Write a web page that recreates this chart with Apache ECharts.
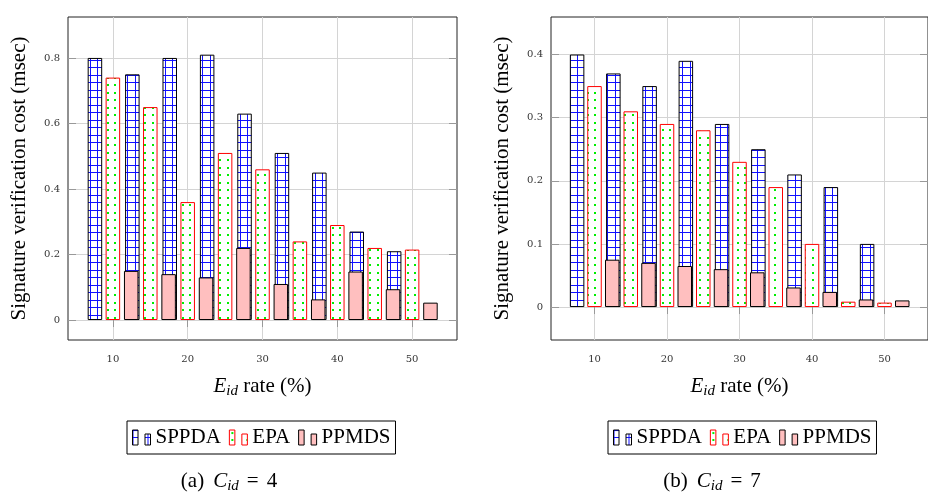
<!DOCTYPE html>
<html>
<head>
<meta charset="utf-8">
<script src="https://cdn.jsdelivr.net/npm/echarts@6/dist/echarts.min.js"></script>
<style>
  html, body { margin: 0; padding: 0; background: #fff; }
  #chart { width: 928px; height: 494px; }
</style>
</head>
<body>
<div id="chart"></div>
<script>
// bar positions on the E_id rate axis (%)
const sppdaX = [7.6, 12.6, 17.6, 22.6, 27.6, 32.6, 37.6, 42.6, 47.6];
const epaX = [10, 15, 20, 25, 30, 35, 40, 45, 50];
const ppmdsX = [12.45, 17.45, 22.45, 27.45, 32.45, 37.45, 42.45, 47.45, 52.45];

// (a) C_id = 4
const sppdaA = [0.80, 0.75, 0.80, 0.81, 0.63, 0.51, 0.45, 0.27, 0.21];
const epaA = [0.74, 0.65, 0.36, 0.51, 0.46, 0.24, 0.29, 0.22, 0.215];
const ppmdsA = [0.15, 0.14, 0.13, 0.22, 0.11, 0.063, 0.148, 0.094, 0.053];

// (b) C_id = 7
const sppdaB = [0.40, 0.37, 0.35, 0.39, 0.29, 0.25, 0.21, 0.19, 0.10];
const epaB = [0.35, 0.31, 0.29, 0.28, 0.23, 0.19, 0.10, 0.0085, 0.007];
const ppmdsB = [0.075, 0.07, 0.065, 0.06, 0.055, 0.031, 0.024, 0.012, 0.0105];

const xTicks = [10, 20, 30, 40, 50];
const yTicksA = [0, 0.2, 0.4, 0.6, 0.8];
const yTicksB = [0, 0.1, 0.2, 0.3, 0.4];
const names = ['SPPDA', 'EPA', 'PPMDS'];

const serif = 'Liberation Serif';
const tickFont = 'DejaVu Serif';

// blue grid fill for SPPDA
function gridPattern() {
    const c = document.createElement('canvas');
    c.width = 15; c.height = 15;
    const g = c.getContext('2d');
    g.fillStyle = '#fff';
    g.fillRect(0, 0, 15, 15);
    g.fillStyle = '#1010ff';
    g.fillRect(0, 0, 15, 1);
    g.fillRect(0, 7, 15, 1);
    g.fillRect(0, 0, 1, 15);
    g.fillRect(7, 0, 1, 15);
    return c;
}

// green dots fill for EPA
function dotPattern() {
    const c = document.createElement('canvas');
    c.width = 15; c.height = 15;
    const g = c.getContext('2d');
    g.fillStyle = '#fff';
    g.fillRect(0, 0, 15, 15);
    g.fillStyle = '#00ee00';
    [[2, 2], [9, 2], [2, 9], [9, 9]].forEach(p => g.fillRect(p[0], p[1], 2, 2));
    return c;
}

const styles = {
    SPPDA: { color: { image: gridPattern(), repeat: 'repeat' }, borderColor: '#000', borderWidth: 1 },
    EPA: { color: { image: dotPattern(), repeat: 'repeat' }, borderColor: '#ff0000', borderWidth: 1 },
    PPMDS: { color: '#ffbfbf', borderColor: '#000', borderWidth: 1 }
};

function barSeries(name, xs, ys, axis) {
    return {
        type: 'bar',
        name: name,
        xAxisIndex: axis,
        yAxisIndex: axis,
        data: xs.map((x, i) => [x, ys[i]]),
        barWidth: 14.5,
        barGap: '-100%',
        itemStyle: styles[name],
        emphasis: { disabled: true }
    };
}

const rich = {
    n: { fontFamily: serif, fontSize: 21, color: '#000', lineHeight: 26 },
    i: { fontFamily: serif, fontSize: 21, fontStyle: 'italic', color: '#000', lineHeight: 26 },
    s: { fontFamily: serif, fontSize: 15, fontStyle: 'italic', color: '#000', lineHeight: 16, verticalAlign: 'bottom' },
    eq: { fontFamily: serif, fontSize: 21, color: '#000', lineHeight: 26, padding: [0, 8, 0, 8] },
    p: { fontFamily: serif, fontSize: 21, color: '#000', lineHeight: 26, padding: [0, 9, 0, 0] }
};

function xAxes(grid) {
    const tick = { show: true, inside: false, length: 7, customValues: xTicks, lineStyle: { color: '#999' } };
    return [{
        type: 'value', gridIndex: grid, min: 4, max: 56, position: 'bottom',
        axisLine: { show: false },
        axisTick: tick,
        axisLabel: { customValues: xTicks, margin: 14, fontFamily: tickFont, fontSize: 10, color: '#333' },
        splitLine: { show: true, lineStyle: { color: '#d4d4d4' } },
        name: '{i|E}{s|id}{n| rate (%)}',
        nameLocation: 'middle',
        nameGap: 33,
        nameTextStyle: { rich: rich }
    }, {
        type: 'value', gridIndex: grid, min: 4, max: 56, position: 'top',
        axisLine: { show: false },
        axisTick: tick,
        axisLabel: { show: false },
        splitLine: { show: false }
    }];
}

function yAxes(grid, min, max, ticks) {
    const tick = { show: true, inside: true, length: 8, customValues: ticks, lineStyle: { color: '#999' } };
    return [{
        type: 'value', gridIndex: grid, min: min, max: max, position: 'left',
        axisLine: { show: false },
        axisTick: tick,
        axisLabel: { customValues: ticks, margin: 8, fontFamily: tickFont, fontSize: 10, color: '#333' },
        splitLine: { show: true, lineStyle: { color: '#d4d4d4' } },
        name: 'Signature verification cost (msec)',
        nameLocation: 'middle',
        nameGap: 38,
        nameTextStyle: { fontFamily: serif, fontSize: 21, color: '#000' }
    }, {
        type: 'value', gridIndex: grid, min: min, max: max, position: 'right',
        axisLine: { show: false },
        axisTick: tick,
        axisLabel: { show: false },
        splitLine: { show: false }
    }];
}

function legendAt(left) {
    return {
        left: left, top: 421,
        data: names.map(n => ({ name: n, itemStyle: styles[n] })),
        icon: 'path://M0,0H5.5V15H0ZM12.5,4H18V15H12.5Z',
        itemWidth: 18, itemHeight: 15,
        itemGap: 8,
        padding: [6, 5],
        backgroundColor: '#fff',
        borderColor: '#000',
        borderWidth: 1,
        selectedMode: false,
        textStyle: { fontFamily: serif, fontSize: 21, color: '#000' }
    };
}

function caption(x, text) {
    const r = {};
    Object.keys(rich).forEach(k => {
        r[k] = Object.assign({}, rich[k], { fill: '#000' });
    });
    return {
        type: 'text', x: x, y: 481,
        style: { text: text, align: 'center', verticalAlign: 'middle', rich: r }
    };
}

const chart = echarts.init(document.getElementById('chart'));
chart.setOption({
    animation: false,
    grid: [
        { left: 68, top: 17, width: 389, height: 323, show: true, borderColor: '#222', borderWidth: 1 },
        { left: 551, top: 17, width: 389, height: 323, show: true, borderColor: '#222', borderWidth: 1 }
    ],
    xAxis: [...xAxes(0), ...xAxes(1)],
    yAxis: [...yAxes(0, -0.061, 0.925, yTicksA), ...yAxes(1, -0.0522, 0.4594, yTicksB)],
    legend: [legendAt(127), legendAt(608)],
    graphic: [
        caption(229, '{p|(a)}{i|C}{s|id}{eq|=}{n|4}'),
        caption(712, '{p|(b)}{i|C}{s|id}{eq|=}{n|7}')
    ],
    series: [
        barSeries('SPPDA', sppdaX, sppdaA, 0),
        barSeries('EPA', epaX, epaA, 0),
        barSeries('PPMDS', ppmdsX, ppmdsA, 0),
        barSeries('SPPDA', sppdaX, sppdaB, 2),
        barSeries('EPA', epaX, epaB, 2),
        barSeries('PPMDS', ppmdsX, ppmdsB, 2)
    ]
});
</script>
</body>
</html>
